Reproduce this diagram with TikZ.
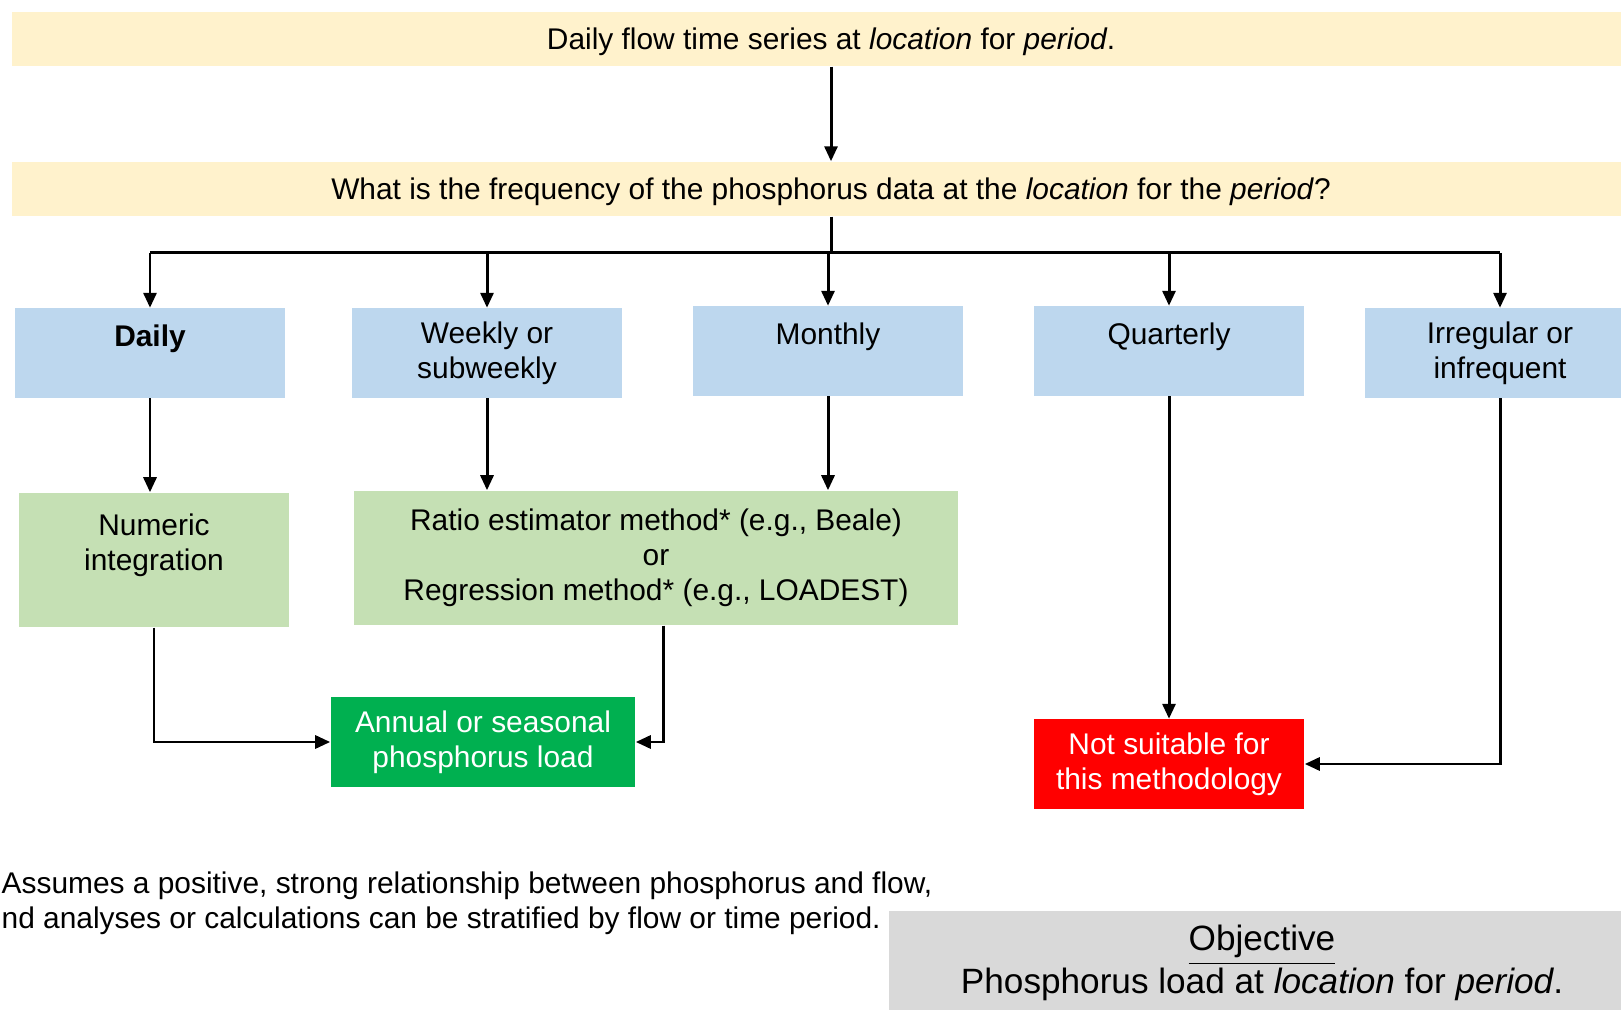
\documentclass[tikz,border=0pt]{standalone}
\usepackage{fontspec}
\setmainfont{Liberation Sans}
\usepackage{xcolor}
\usetikzlibrary{arrows.meta}

\definecolor{sand}{HTML}{FFF2CC}
\definecolor{skyblue}{HTML}{BDD7EE}
\definecolor{sage}{HTML}{C5E0B4}
\definecolor{loadgreen}{HTML}{00B050}
\definecolor{stopred}{HTML}{FF0000}
\definecolor{objgray}{HTML}{D9D9D9}

\begin{document}
\begin{tikzpicture}[x=0.01cm,y=-0.01cm,
    font=\fontsize{8.5}{10}\selectfont,
    every node/.style={align=center,inner sep=0pt},
    askbox/.style={fill=sand,minimum width=16.38cm,minimum height=0.54cm,text height=8pt,text depth=2pt},
    freqbox/.style={fill=skyblue,minimum width=2.7cm,minimum height=0.89cm},
    methbox/.style={fill=sage,minimum height=1.34cm},
    endbox/.style={text=white,minimum height=0.89cm},
    arr/.style={-{Triangle[length=0.15cm,width=0.13cm]},line width=0.85pt}]
            \clip (0,0) rectangle (1621,1010);

            \node[askbox] (t1) at (831,39) {Daily flow time series at \textit{location} for \textit{period}.};
            \node[askbox] (t2) at (831,189) {What is the frequency of the phosphorus data at the \textit{location} for the \textit{period}?};
            \coordinate (bus) at (831,253);

            \node[freqbox] (f1) at (150,353) {\textbf{Daily}\\~};
            \node[freqbox] (f2) at (487,353) {Weekly or\\subweekly};
            \node[freqbox] (f3) at (828,351) {Monthly\\~};
            \node[freqbox] (f4) at (1169,351) {Quarterly\\~};
            \node[freqbox] (f5) at (1500,353) {Irregular or\\infrequent};

            \node[methbox,minimum width=2.69cm] (m1) at (154,560) {Numeric\\integration\\~};
            \node[methbox,minimum width=6.03cm] (m2) at (656,558) {Ratio estimator method* (e.g., Beale)\\or\\Regression method* (e.g., LOADEST)};

            \node[endbox,fill=loadgreen,minimum width=3.04cm] (r1) at (483,742) {Annual or seasonal\\phosphorus load};
            \node[endbox,fill=stopred,minimum width=2.7cm] (r2) at (1169,764) {Not suitable for\\this methodology};

            \node[anchor=west,align=left] (n1) at (1,903) {Assumes a positive, strong relationship between phosphorus and flow,\\nd analyses or calculations can be stratified by flow or time period.};
            \node[fill=objgray,minimum width=7.46cm,minimum height=1.03cm,font=\fontsize{10}{12}\selectfont] (o1) at (1262,963) {\underline{Objective}\\Phosphorus load at \textit{location} for \textit{period}.};

            \draw[arr] (t1.south) -- (t2.north);
            \draw[line width=0.85pt] (t2.south) -- (bus);
            \draw[line width=0.85pt] (bus -| f1) -- (bus -| f5);
            \draw[arr] (bus -| f1) -- (f1.north);
            \draw[arr] (bus -| f2) -- (f2.north);
            \draw[arr] (bus -| f3) -- (f3.north);
            \draw[arr] (bus -| f4) -- (f4.north);
            \draw[arr] (bus -| f5) -- (f5.north);

            \draw[arr] (f1.south) -- (f1.south |- m1.north);
            \draw[arr] (f2.south) -- (f2.south |- m2.north);
            \draw[arr] (f3.south) -- (f3.south |- m2.north);
            \draw[arr] (m1.south) |- (r1.west);
            \draw[arr] ([xshift=0.07cm]m2.south) |- (r1.east);
            \draw[arr] (f4.south) -- (r2.north);
            \draw[arr] (f5.south) |- (r2.east);
        \end{tikzpicture}
\end{document}
